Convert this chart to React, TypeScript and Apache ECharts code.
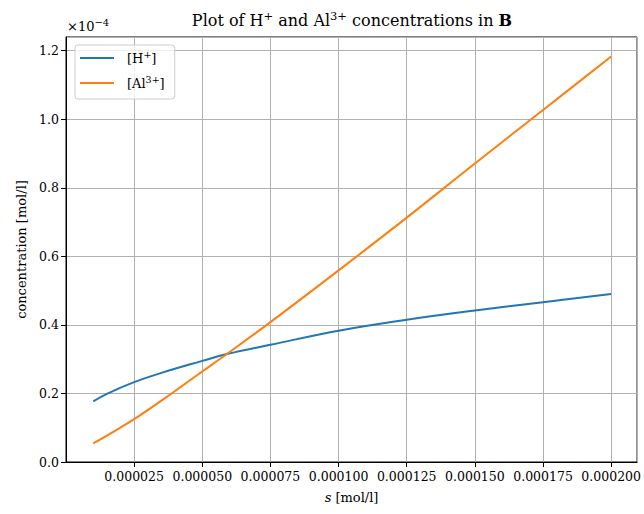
import React, { useEffect, useRef } from "react";
import * as echarts from "echarts";

// s [mol/l]
const sValues = [1e-5, 1.5e-5, 2.5e-5, 3.5e-5, 5e-5, 5.9e-5, 7.5e-5, 1e-4, 1.25e-4, 1.5e-4, 1.75e-4, 2e-4];
// concentrations, in units of 1e-4 mol/l
const hPlus = [0.177, 0.199, 0.233, 0.26, 0.295, 0.315, 0.342, 0.383, 0.415, 0.442, 0.466, 0.49];
const alIon = [0.054, 0.077, 0.125, 0.179, 0.264, 0.315, 0.408, 0.559, 0.713, 0.871, 1.027, 1.183];

const xTickStep = 0.000025;
const yTickStep = 0.2;

const FONT = "'DejaVu Serif', 'Liberation Serif', serif";

export default function App() {
  const ref = useRef<HTMLDivElement>(null);

  useEffect(() => {
    if (!ref.current) return;
    const chart = echarts.init(ref.current, undefined, { renderer: "svg" });

    const isTick = (v: number, step: number) => Math.abs(v / step - Math.round(v / step)) < 1e-6;

    chart.setOption({
      animation: false,
      backgroundColor: "#fff",
      textStyle: { fontFamily: FONT },
      grid: {
        left: 66,
        right: 6,
        top: 37,
        bottom: 52,
        show: true,
        borderColor: "#000",
        borderWidth: 1,
        backgroundColor: "transparent",
      },
      graphic: [
        {
          type: "text",
          x: 352,
          y: 20,
          style: {
            text: "Plot of H{sup|+} and Al{sup|3+} concentrations in {b|B}",
            fontFamily: FONT,
            fontSize: 16,
            lineHeight: 20,
            fill: "#000",
            align: "center",
            verticalAlign: "middle",
            rich: {
              sup: { fontSize: 11.5, lineHeight: 12, verticalAlign: "top", fontFamily: FONT, fill: "#000" },
              b: { fontSize: 16, lineHeight: 20, fontWeight: "bold", fontFamily: FONT, fill: "#000" },
            },
          },
        },
        {
          type: "text",
          x: 67,
          y: 26,
          style: {
            text: "×10{sup|−4}",
            fontFamily: FONT,
            fontSize: 13,
            lineHeight: 18,
            fill: "#000",
            align: "left",
            verticalAlign: "middle",
            rich: {
              sup: { fontSize: 10, lineHeight: 10, verticalAlign: "top", fontFamily: FONT, fill: "#000" },
            },
          },
        },
      ],
      legend: {
        orient: "vertical",
        left: 75,
        top: 45,
        padding: [4, 10, 7, 5],
        itemGap: 7,
        itemWidth: 34,
        itemHeight: 2,
        icon: "rect",
        backgroundColor: "rgba(255,255,255,0.8)",
        borderColor: "#cccccc",
        borderWidth: 1,
        borderRadius: 3,
        formatter: (name: string) => (name === "[H+]" ? "[H{sup|+}]" : "[Al{sup|3+}]"),
        textStyle: {
          fontFamily: FONT,
          fontSize: 13,
          lineHeight: 18,
          color: "#000",
          padding: [0, 0, 0, 8],
          rich: {
            sup: { fontSize: 9.5, lineHeight: 10, verticalAlign: "top", fontFamily: FONT, color: "#000" },
          },
        },
      },
      xAxis: {
        type: "value",
        min: 0,
        max: 0.0002095,
        interval: xTickStep,
        name: "{it|s} [mol/l]",
        nameLocation: "middle",
        nameGap: 29,
        nameTextStyle: {
          fontFamily: FONT,
          fontSize: 13,
          color: "#000",
          rich: { it: { fontStyle: "italic", fontFamily: FONT, fontSize: 13, color: "#000" } },
        },
        axisLine: { show: true, lineStyle: { color: "#000", width: 1 } },
        axisTick: { show: true, inside: false, length: 5, lineStyle: { color: "#000", width: 1 } },
        axisLabel: {
          show: true,
          margin: 8,
          fontFamily: FONT,
          fontSize: 12.5,
          color: "#000",
          showMinLabel: false,
          showMaxLabel: false,
          formatter: (v: number) => (v === 0 || !isTick(v, xTickStep) ? "" : v.toFixed(6)),
        },
        splitLine: { show: true, lineStyle: { color: "#b0b0b0", width: 1 } },
      },
      yAxis: {
        type: "value",
        min: 0,
        max: 1.24,
        interval: yTickStep,
        name: "concentration [mol/l]",
        nameLocation: "middle",
        nameGap: 38,
        nameRotate: 90,
        nameTextStyle: { fontFamily: FONT, fontSize: 13, color: "#000" },
        axisLine: { show: true, lineStyle: { color: "#000", width: 1 } },
        axisTick: { show: true, inside: false, length: 5, lineStyle: { color: "#000", width: 1 } },
        axisLabel: {
          show: true,
          margin: 7,
          fontFamily: FONT,
          fontSize: 12.5,
          color: "#000",
          showMaxLabel: false,
          formatter: (v: number) => (isTick(v, yTickStep) ? v.toFixed(1) : ""),
        },
        splitLine: { show: true, lineStyle: { color: "#b0b0b0", width: 1 } },
      },
      series: [
        {
          name: "[H+]",
          type: "line",
          data: sValues.map((s, i) => [s, hPlus[i]]),
          symbol: "none",
          smooth: 0.4,
          lineStyle: { color: "#1f77b4", width: 2 },
          itemStyle: { color: "#1f77b4" },
        },
        {
          name: "[Al3+]",
          type: "line",
          data: sValues.map((s, i) => [s, alIon[i]]),
          symbol: "none",
          smooth: 0.4,
          lineStyle: { color: "#ff7f0e", width: 2 },
          itemStyle: { color: "#ff7f0e" },
        },
      ],
    });

    return () => chart.dispose();
  }, []);

  return (
    <div
      ref={ref}
      style={{ position: "fixed", left: 0, top: 0, width: 644, height: 514, background: "#fff" }}
    />
  );
}
